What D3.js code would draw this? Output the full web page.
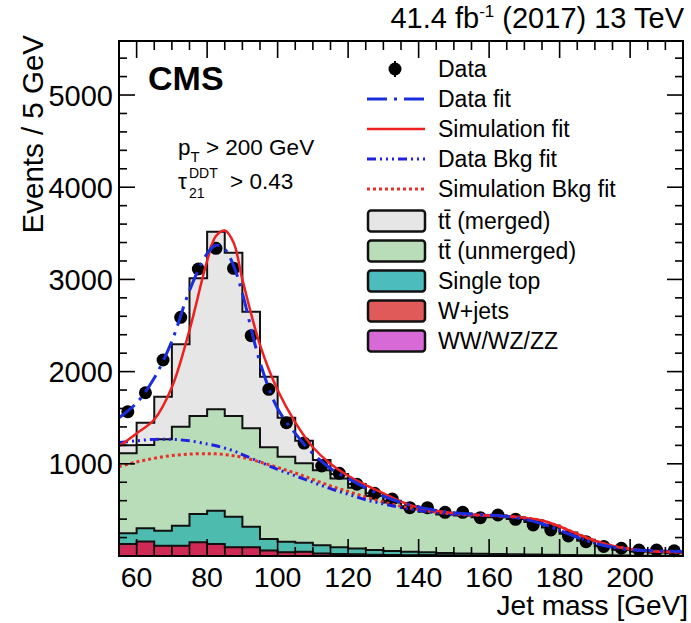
<!DOCTYPE html>
<html>
<head>
<meta charset="utf-8">
<script src="https://cdn.jsdelivr.net/npm/d3@7"></script>
<style>
  html, body { margin: 0; padding: 0; background: #fff; }
  svg { display: block; font-family: "Liberation Sans", Arial, Helvetica, sans-serif; }
</style>
</head>
<body>
<svg id="chart" width="691" height="623"></svg>
<script>
// Jet mass bins (lower edges, 5 GeV wide)
const massBins = [55,60,65,70,75,80,85,90,95,100,105,110,115,120,125,130,
                  135,140,145,150,155,160,165,170,175,180,185,190,195,200,205,210];
const binWidth = 5;

// Observed events per bin
const dataCounts = [1565,1771,2126,2589,3113,3337,3120,2390,1808,1446,1225,976,897,778,680,618,
                    524,524,474,474,416,445,398,336,282,217,155,104,84,65,65,57];

// Simulated contributions (stacked bottom to top)
const wJets      = [130,158,112,112,148,130,95,95,60,42,45,28,22,18,14,11,9,12,7,6,5,5,4,4,3,3,2,2,2,1,1,1];
const diboson    = [8,8,7,7,7,8,6,6,5,5,4,4,3,3,3,2,2,2,2,2,2,2,1,1,1,1,1,1,1,0,0,0];
const singleTop  = [108,134,155,210,300,354,326,217,119,108,95,85,70,60,48,40,34,28,24,20,18,15,13,11,9,7,5,4,3,2,2,1];
const ttUnmerged = [868,904,991,1074,1063,1099,1091,1067,995,922,861,813,745,659,585,527,475,438,417,412,395,398,382,354,297,229,157,98,62,45,35,31];
const ttMerged   = [86,242,463,893,1494,1927,1772,1265,766,423,245,110,50,40,30,20,20,20,20,20,20,20,20,20,20,15,10,7,4,3,2,2];

// Fit curves sampled along jet mass
const fitMass    = [55,60,65,70,75,80,82.5,85,87.5,90,95,100,105,110,115,120,125,130,135,140,
                    145,150,155,160,165,170,175,180,185,190,195,200,205,210,215];
const dataFit    = [1500,1660,1930,2330,2880,3280,3370,3330,3150,2850,2100,1600,1330,1110,950,840,740,650,580,530,
                    495,470,455,445,430,400,350,280,205,140,95,70,58,52,48];
const simFit     = [1190,1330,1480,1830,2450,3200,3470,3530,3400,3000,2290,1800,1450,1180,1000,870,770,680,590,525,
                    490,465,450,440,430,415,385,320,240,165,110,75,55,45,40];
const dataBkgFit = [1230,1250,1265,1265,1250,1215,1195,1170,1140,1100,1020,940,870,800,730,670,610,565,525,495,
                    470,455,445,440,430,400,350,280,205,140,95,70,58,52,48];
const simBkgFit  = [970,1020,1060,1090,1105,1110,1108,1100,1088,1070,1020,960,900,830,760,700,640,585,540,505,
                    475,455,445,440,430,415,385,320,240,165,110,75,55,45,40];

const xTicks = [60,80,100,120,140,160,180,200];
const yTicks = [1000,2000,3000,4000,5000];

const svg = d3.select("#chart");
const padL = 119, padR = 683, padT = 41, padB = 556;
const x = d3.scaleLinear().domain([55, 215]).range([padL, padR]);
const y = d3.scaleLinear().domain([0, 5586]).range([padB, padT]);

const colors = {
  wJets: "#cf2a55", diboson: "#d86ad8", singleTop: "#4dbcae",
  ttUnmerged: "#b9dcb9", ttMerged: "#e6e6e6"
};

// Stack the simulated samples
const rows = massBins.map((m, i) => ({
  m, wJets: wJets[i], diboson: diboson[i], singleTop: singleTop[i],
  ttUnmerged: ttUnmerged[i], ttMerged: ttMerged[i]
}));
const keys = ["wJets", "diboson", "singleTop", "ttUnmerged", "ttMerged"];
const series = d3.stack().keys(keys)(rows);

function stepPoints(layer) {
  const pts = [];
  layer.forEach(d => {
    pts.push({ x: d.data.m, y0: d[0], y1: d[1] });
    pts.push({ x: d.data.m + binWidth, y0: d[0], y1: d[1] });
  });
  return pts;
}
const area = d3.area().x(d => x(d.x)).y0(d => y(d.y0)).y1(d => y(d.y1));
const topLine = d3.line().x(d => x(d.x)).y(d => y(d.y1));

const plot = svg.append("g");
series.forEach(layer => {
  plot.append("path").attr("d", area(stepPoints(layer))).attr("fill", colors[layer.key]);
});
// W+jets bins drawn as outlined boxes
plot.selectAll("rect.wj").data(series[0]).join("rect")
  .attr("x", d => x(d.data.m)).attr("width", d => x(d.data.m + binWidth) - x(d.data.m))
  .attr("y", d => y(d[1])).attr("height", d => y(d[0]) - y(d[1]))
  .attr("fill", colors.wJets).attr("stroke", "#3a1020").attr("stroke-width", 1);
series.forEach(layer => {
  if (layer.key === "diboson") return;
  plot.append("path").attr("d", topLine(stepPoints(layer)))
    .attr("fill", "none").attr("stroke", "#111").attr("stroke-width", 2);
});

// Data points
plot.selectAll("circle.data").data(dataCounts).join("circle")
  .attr("cx", (d, i) => x(massBins[i] + binWidth / 2))
  .attr("cy", d => y(d)).attr("r", 6.5).attr("fill", "#000");

// Fit curves
const fitLine = vals => d3.line().curve(d3.curveCatmullRom)
  .x((d, i) => x(fitMass[i])).y(d => y(d))(vals);
const fitStyles = [
  { vals: simBkgFit,  color: "#e8302a", width: 3,   dash: "3,3" },
  { vals: dataBkgFit, color: "#2020e0", width: 3,   dash: "9,4,2,4,2,4,2,4" },
  { vals: simFit,     color: "#ee2020", width: 2.5, dash: null },
  { vals: dataFit,    color: "#1a2ee0", width: 3,   dash: "20,7,3,7" }
];
fitStyles.forEach(s => {
  plot.append("path").attr("d", fitLine(s.vals)).attr("fill", "none")
    .attr("stroke", s.color).attr("stroke-width", s.width)
    .attr("stroke-dasharray", s.dash);
});

// Frame and inward ticks
const axes = svg.append("g").attr("stroke", "#000");
axes.append("rect").attr("x", padL).attr("y", padT)
  .attr("width", padR - padL).attr("height", padB - padT)
  .attr("fill", "none").attr("stroke-width", 2);
const xMinor = massBins.concat([215]);
xMinor.forEach(v => {
  const major = xTicks.includes(v);
  const len = major ? 17 : 9;
  axes.append("line").attr("x1", x(v)).attr("x2", x(v)).attr("y1", padB).attr("y2", padB - len).attr("stroke-width", 1.6);
  axes.append("line").attr("x1", x(v)).attr("x2", x(v)).attr("y1", padT).attr("y2", padT + len).attr("stroke-width", 1.6);
});
const yMinor = d3.range(200, 5586, 200);
yMinor.forEach(v => {
  const major = v % 1000 === 0;
  const len = major ? 16 : 8;
  axes.append("line").attr("y1", y(v)).attr("y2", y(v)).attr("x1", padL).attr("x2", padL + len).attr("stroke-width", 1.6);
  axes.append("line").attr("y1", y(v)).attr("y2", y(v)).attr("x1", padR).attr("x2", padR - len).attr("stroke-width", 1.6);
});

// Tick labels
svg.append("g").selectAll("text").data(xTicks).join("text")
  .attr("x", d => x(d)).attr("y", 587).attr("text-anchor", "middle")
  .attr("font-size", 28.5).text(d => d);
svg.append("g").selectAll("text").data(yTicks).join("text")
  .attr("x", 113).attr("y", d => y(d) + 10.5).attr("text-anchor", "end")
  .attr("font-size", 29).text(d => d);

// Axis titles
svg.append("text").attr("x", 688).attr("y", 615).attr("text-anchor", "end")
  .attr("font-size", 28).text("Jet mass [GeV]");
svg.append("text").attr("transform", "translate(43,35) rotate(-90)")
  .attr("text-anchor", "end").attr("font-size", 29.5).text("Events / 5 GeV");

// Luminosity label
const lumi = svg.append("text").attr("x", 684).attr("y", 28).attr("text-anchor", "end").attr("font-size", 29);
lumi.append("tspan").text("41.4 fb");
lumi.append("tspan").attr("dy", -11).attr("font-size", 17).text("-1");
lumi.append("tspan").attr("dy", 11).text(" (2017) 13 TeV");

// CMS and selection labels
svg.append("text").attr("x", 148).attr("y", 90).attr("font-size", 34)
  .attr("font-weight", "bold").text("CMS");
const pt = svg.append("text").attr("x", 178).attr("y", 155).attr("font-size", 22.5);
pt.append("tspan").text("p");
pt.append("tspan").attr("dy", 7).attr("font-size", 15).text("T");
pt.append("tspan").attr("dy", -7).text(" > 200 GeV");
const tau = svg.append("text").attr("x", 178).attr("y", 189).attr("font-size", 22.5);
tau.append("tspan").text("τ");
tau.append("tspan").attr("x", 189).attr("dy", 9).attr("font-size", 14).text("21");
tau.append("tspan").attr("x", 189).attr("dy", -20).attr("font-size", 14).text("DDT");
tau.append("tspan").attr("x", 230).attr("dy", 11).text("> 0.43");

// Legend
const legend = svg.append("g");
const rowY = [69, 99, 129, 159, 189, 221, 251, 281, 311, 341];
const legendLabels = ["Data", "Data fit", "Simulation fit", "Data Bkg fit", "Simulation Bkg fit",
  "tt\u0304 (merged)", "tt\u0304 (unmerged)", "Single top", "W+jets", "WW/WZ/ZZ"];
legendLabels.forEach((t, i) => {
  legend.append("text").attr("x", 438).attr("y", rowY[i] + 8).attr("font-size", 23).text(t);
});
legend.append("line").attr("x1", 395).attr("x2", 395).attr("y1", rowY[0] - 8).attr("y2", rowY[0] + 8)
  .attr("stroke", "#000").attr("stroke-width", 2);
legend.append("circle").attr("cx", 395).attr("cy", rowY[0]).attr("r", 6.5).attr("fill", "#000");
const legendFits = [fitStyles[3], fitStyles[2], fitStyles[1], fitStyles[0]];
legendFits.forEach((s, i) => {
  legend.append("line").attr("x1", 367).attr("x2", 425).attr("y1", rowY[i + 1]).attr("y2", rowY[i + 1])
    .attr("stroke", s.color).attr("stroke-width", s.width).attr("stroke-dasharray", s.dash);
});
const legendFills = ["#e6e6e6", "#b9dcb9", "#4cbcbc", "#e05a5a", "#d86ad8"];
legendFills.forEach((c, i) => {
  legend.append("rect").attr("x", 368).attr("y", rowY[i + 5] - 10.5).attr("width", 57).attr("height", 21)
    .attr("rx", 3).attr("fill", c).attr("stroke", "#111").attr("stroke-width", 2.5);
});
</script>
</body>
</html>
